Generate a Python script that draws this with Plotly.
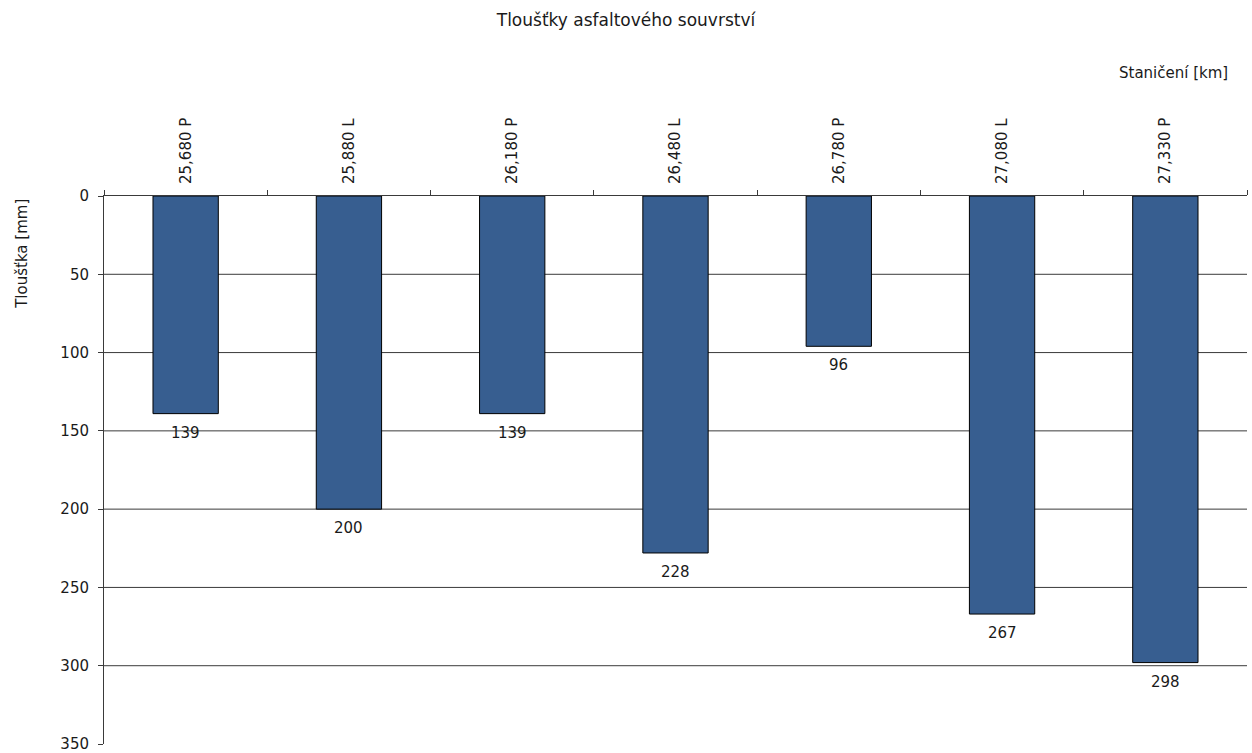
import plotly.graph_objects as go

# Stations along the road and asphalt layer thickness at each core
stations = ["25,680 P", "25,880 L", "26,180 P", "26,480 L", "26,780 P", "27,080 L", "27,330 P"]
thickness_mm = [139, 200, 139, 228, 96, 267, 298]
y_ticks = [0, 50, 100, 150, 200, 250, 300, 350]
grid_levels = [50, 100, 150, 200, 250, 300]

FONT = "DejaVu Sans"
TEXT = "#1a1a1a"
SIZE = 15

fig = go.Figure(
    go.Bar(
        x=stations,
        y=thickness_mm,
        width=0.4,
        marker=dict(color="#375E90", line=dict(color="#000000", width=1)),
        hoverinfo="x+y",
    )
)

fig.update_layout(
    width=1252,
    height=753,
    paper_bgcolor="white",
    plot_bgcolor="white",
    margin=dict(l=104, r=5, t=196, b=9),
    showlegend=False,
    font=dict(family=FONT, size=SIZE, color=TEXT),
    title=dict(
        text="Tloušťky asfaltového souvrství",
        x=0.5, xanchor="center", y=0.973, yanchor="middle",
        font=dict(family=FONT, size=17, color=TEXT),
    ),
    xaxis=dict(
        type="category",
        side="top",
        automargin=False,
        showline=True,
        linecolor="#3a3a3a",
        linewidth=1,
        ticks="outside",
        tickson="boundaries",
        ticklen=5,
        tickcolor="#3a3a3a",
        tickangle=-90,
        ticklabelstandoff=8,
        tickfont=dict(family=FONT, size=SIZE, color=TEXT),
        showgrid=False,
        zeroline=False,
    ),
    yaxis=dict(
        range=[350, 0],
        tickvals=y_ticks,
        automargin=False,
        showline=True,
        linecolor="#3a3a3a",
        linewidth=1,
        ticks="outside",
        ticklen=5,
        tickcolor="#3a3a3a",
        ticklabelstandoff=6,
        ticklabeloverflow="allow",
        tickfont=dict(family=FONT, size=SIZE, color=TEXT),
        showgrid=False,
        zeroline=False,
    ),
)

# horizontal grid lines at the labelled levels (none along the bottom edge)
for g in grid_levels:
    fig.add_shape(
        type="line", xref="paper", yref="y", x0=0, x1=1, y0=g, y1=g,
        line=dict(color="#3a3a3a", width=1), layer="below",
    )

# value labels just below each bar end
for s, v in zip(stations, thickness_mm):
    fig.add_annotation(
        x=s, y=v, text=str(v), showarrow=False,
        xanchor="center", yanchor="middle", yshift=-19,
        font=dict(family=FONT, size=SIZE, color=TEXT),
    )

# axis titles
fig.add_annotation(
    text="Tloušťka [mm]", xref="paper", yref="paper",
    x=-0.072, y=0.894, xanchor="center", yanchor="middle",
    textangle=-90, showarrow=False,
    font=dict(family=FONT, size=SIZE, color=TEXT),
)
fig.add_annotation(
    text="Staničení [km]", xref="paper", yref="paper",
    x=0.9855, y=1.225, xanchor="right", yanchor="middle",
    showarrow=False,
    font=dict(family=FONT, size=SIZE, color=TEXT),
)

fig.write_html("out.html")
